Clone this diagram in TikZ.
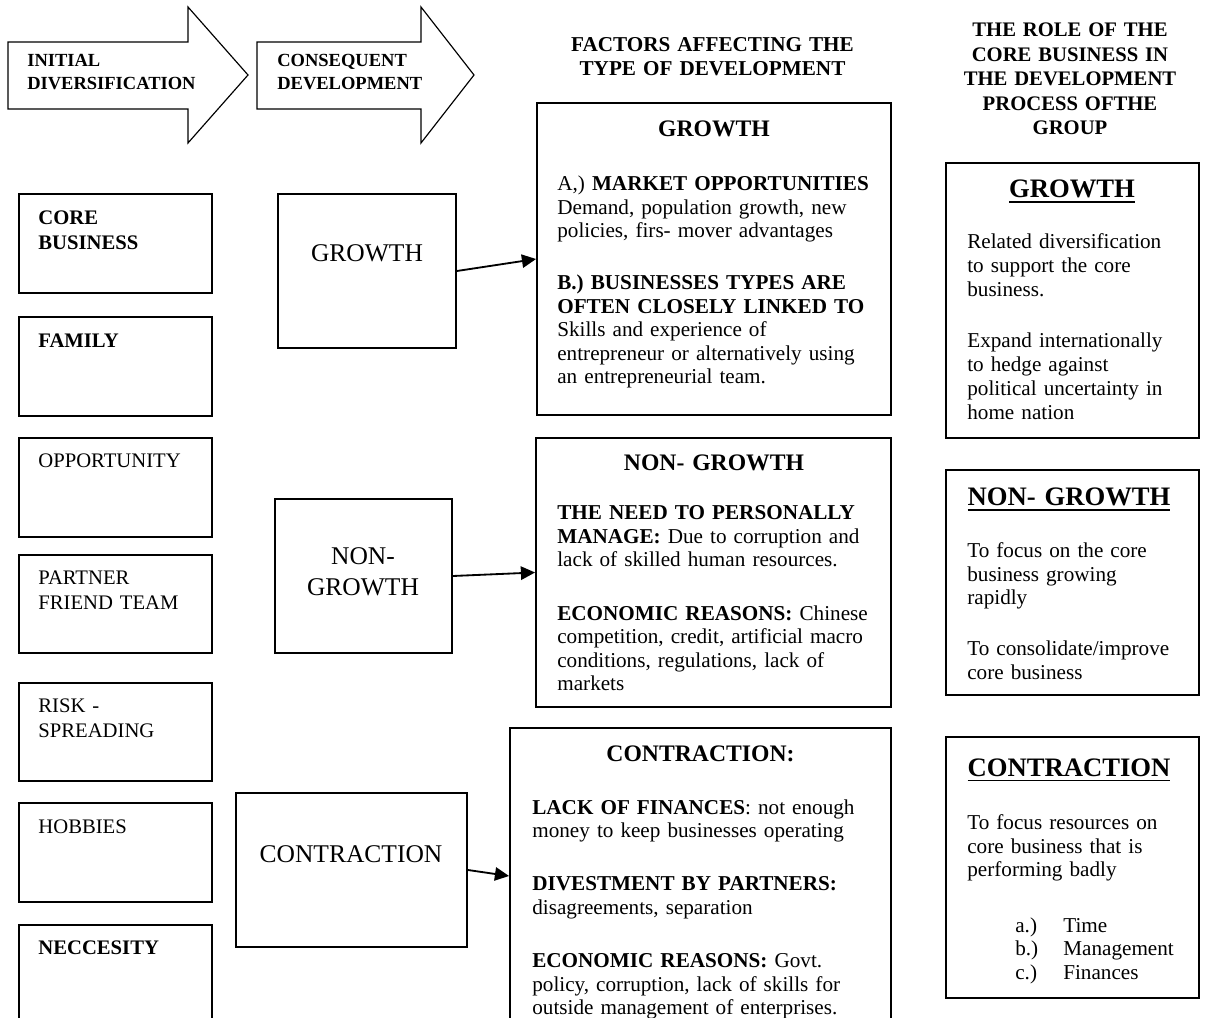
\documentclass[tikz,border=0pt]{standalone}
\usepackage{fontspec}
\setmainfont{Liberation Serif}
\usetikzlibrary{arrows.meta,fit,calc}

% bold heading with a thick underline
\newcommand\headul[1]{\vtop{\hbox{#1}\kern1.4pt\hrule height 1.1pt}}

\begin{document}
\begin{tikzpicture}[x=0.6pt,y=-0.6pt,
  box/.style={draw, line width=1.1pt, inner sep=0pt},
  bigarrow/.style={draw, line width=0.7pt, line join=miter},
  link/.style={line width=1.1pt, -{Triangle[length=8.5pt,width=8pt]}},
  lefttxt/.style={inner sep=0pt, anchor=base west, text width=8cm, align=left},
  midtxt/.style={inner sep=0pt, anchor=base, text width=8cm, align=center},
  arrowtxt/.style={lefttxt, font=\fontsize{11.1}{13.8}\selectfont\bfseries},
  coltitle/.style={midtxt, font=\fontsize{12.7}{14.1}\selectfont\bfseries},
  roletitle/.style={midtxt, font=\fontsize{12.4}{14.7}\selectfont\bfseries},
  sourcetxt/.style={lefttxt, font=\fontsize{12.4}{15}\selectfont},
  devtxt/.style={midtxt, font=\fontsize{15.3}{18.6}\selectfont},
  facttitle/.style={midtxt, font=\fontsize{14.2}{17}\selectfont\bfseries},
  body/.style={lefttxt, font=\fontsize{12.7}{14.1}\selectfont},
  rolebody/.style={lefttxt, font=\fontsize{12.7}{14.1}\selectfont},
  rolehead/.style={midtxt, font=\fontsize{16}{19}\selectfont\bfseries},
]
\useasboundingbox (0,0) rectangle (1205,1018);
\clip (0,0) rectangle (1205,1018);

% ---- block arrows across the top ----
\draw[bigarrow] (8,42) -- (188,42) -- (188,7) -- (248,75) -- (188,143) -- (188,109) -- (8,109) -- cycle;
\draw[bigarrow] (257,42) -- (421,42) -- (421,7) -- (474,75) -- (421,143) -- (421,109) -- (257,109) -- cycle;
\node[arrowtxt] (initT) at (27,67) {INITIAL\\DIVERSIFICATION};
\node[arrowtxt] (consT) at (277,67) {CONSEQUENT\\DEVELOPMENT};

% ---- column headings ----
\node[coltitle] (factT) at (712.5,52) {FACTORS AFFECTING THE\\TYPE OF DEVELOPMENT};
\node[roletitle] (roleT) at (1070,37) {THE ROLE OF THE\\CORE BUSINESS IN\\THE DEVELOPMENT\\PROCESS OFTHE\\GROUP};

% ---- sources of the initial diversification ----
\node[box, fit={(19,194) (212,293)}] (core) {};
\node[box, fit={(19,317) (212,416)}] (family) {};
\node[box, fit={(19,438) (212,537)}] (opp) {};
\node[box, fit={(19,555) (212,653)}] (partner) {};
\node[box, fit={(19,683) (212,781)}] (risk) {};
\node[box, fit={(19,803) (212,902)}] (hobby) {};
\node[box, fit={(19,925) (212,1024)}] (need) {};

\node[sourcetxt] (coreT) at ($(core.north west)+(20,31)$) {\textbf{CORE}\\\textbf{BUSINESS}};
\node[sourcetxt] (familyT) at ($(family.north west)+(20,31)$) {\textbf{FAMILY}};
\node[sourcetxt] (oppT) at ($(opp.north west)+(20,30)$) {OPPORTUNITY};
\node[sourcetxt] (partnerT) at ($(partner.north west)+(20,30)$) {PARTNER\\FRIEND TEAM};
\node[sourcetxt] (riskT) at ($(risk.north west)+(20,30)$) {RISK -\\SPREADING};
\node[sourcetxt] (hobbyT) at ($(hobby.north west)+(20,31)$) {HOBBIES};
\node[sourcetxt] (needT) at ($(need.north west)+(20,30)$) {\textbf{NECCESITY}};

% ---- consequent development ----
\node[box, fit={(278,194) (456,348)}] (gmid) {};
\node[box, fit={(275,499) (452,653)}] (nmid) {};
\node[box, fit={(236,793) (467,947)}] (cmid) {};
\node[devtxt] (gmidT) at (367,262) {GROWTH};
\node[devtxt] (nmidT) at (363,565) {NON-\\GROWTH};
\node[devtxt] (cmidT) at (351,862) {CONTRACTION};

% ---- factors affecting the type of development ----
\node[box, fit={(537,103) (891,415)}] (gfac) {};
\node[box, fit={(536,438) (891,707)}] (nfac) {};
\node[box, fit={(510,728) (891,1024)}] (cfac) {};

\node[facttitle] (gfacT) at (714,137) {GROWTH};
\node[body] (gfacB) at (557,191) {A,) \textbf{MARKET OPPORTUNITIES}\\
Demand, population growth, new\\
policies, firs- mover advantages\\[17pt]
\textbf{B.) BUSINESSES TYPES ARE}\\
\textbf{OFTEN CLOSELY LINKED TO}\\
Skills and experience of\\
entrepreneur or alternatively using\\
an entrepreneurial team.};

\node[facttitle] (nfacT) at (714,471) {NON- GROWTH};
\node[body] (nfacB) at (557,520) {\textbf{THE NEED TO PERSONALLY}\\
\textbf{MANAGE:} Due to corruption and\\
lack of skilled human resources.\\[18pt]
\textbf{ECONOMIC REASONS:} Chinese\\
competition, credit, artificial macro\\
conditions, regulations, lack of\\
markets};

\node[facttitle] (cfacT) at (700.5,762) {CONTRACTION:};
\node[body] (cfacB) at (532,814) {\textbf{LACK OF FINANCES}: not enough\\
money to keep businesses operating\\[18pt]
\textbf{DIVESTMENT BY PARTNERS:}\\
disagreements, separation\\[18pt]
\textbf{ECONOMIC REASONS:} Govt.\\
policy, corruption, lack of skills for\\
outside management of enterprises.};

% ---- role of the core business ----
\node[box, fit={(946,163) (1199,438)}] (grole) {};
\node[box, fit={(946,470) (1199,695)}] (nrole) {};
\node[box, fit={(946,737) (1199,998)}] (crole) {};

\node[rolehead] (groleT) at (1072,198) {\headul{GROWTH}};
\node[rolebody, font=\fontsize{12.7}{14.4}\selectfont] (groleB) at (967,249) {Related diversification\\
to support the core\\
business.\\[16pt]
Expand internationally\\
to hedge against\\
political uncertainty in\\
home nation};

\node[rolehead] (nroleT) at (1069,506) {\headul{NON- GROWTH}};
\node[rolebody] (nroleB) at (967,558) {To focus on the core\\
business growing\\
rapidly\\[16.5pt]
To consolidate/improve\\
core business};

\node[rolehead] (croleT) at (1069,777) {\headul{CONTRACTION}};
\node[rolebody] (croleB) at (967,830) {To focus resources on\\
core business that is\\
performing badly};
\node[rolebody] (croleL) at (1015,932) {\makebox[28.8pt][l]{a.)}Time\\
\makebox[28.8pt][l]{b.)}Management\\
\makebox[28.8pt][l]{c.)}Finances};

% ---- connectors ----
\draw[link] (gmid.east) -- (gfac.west);
\draw[link] (nmid.east) -- (nfac.west);
\draw[link] (cmid.east) -- (cfac.west);
\end{tikzpicture}
\end{document}
